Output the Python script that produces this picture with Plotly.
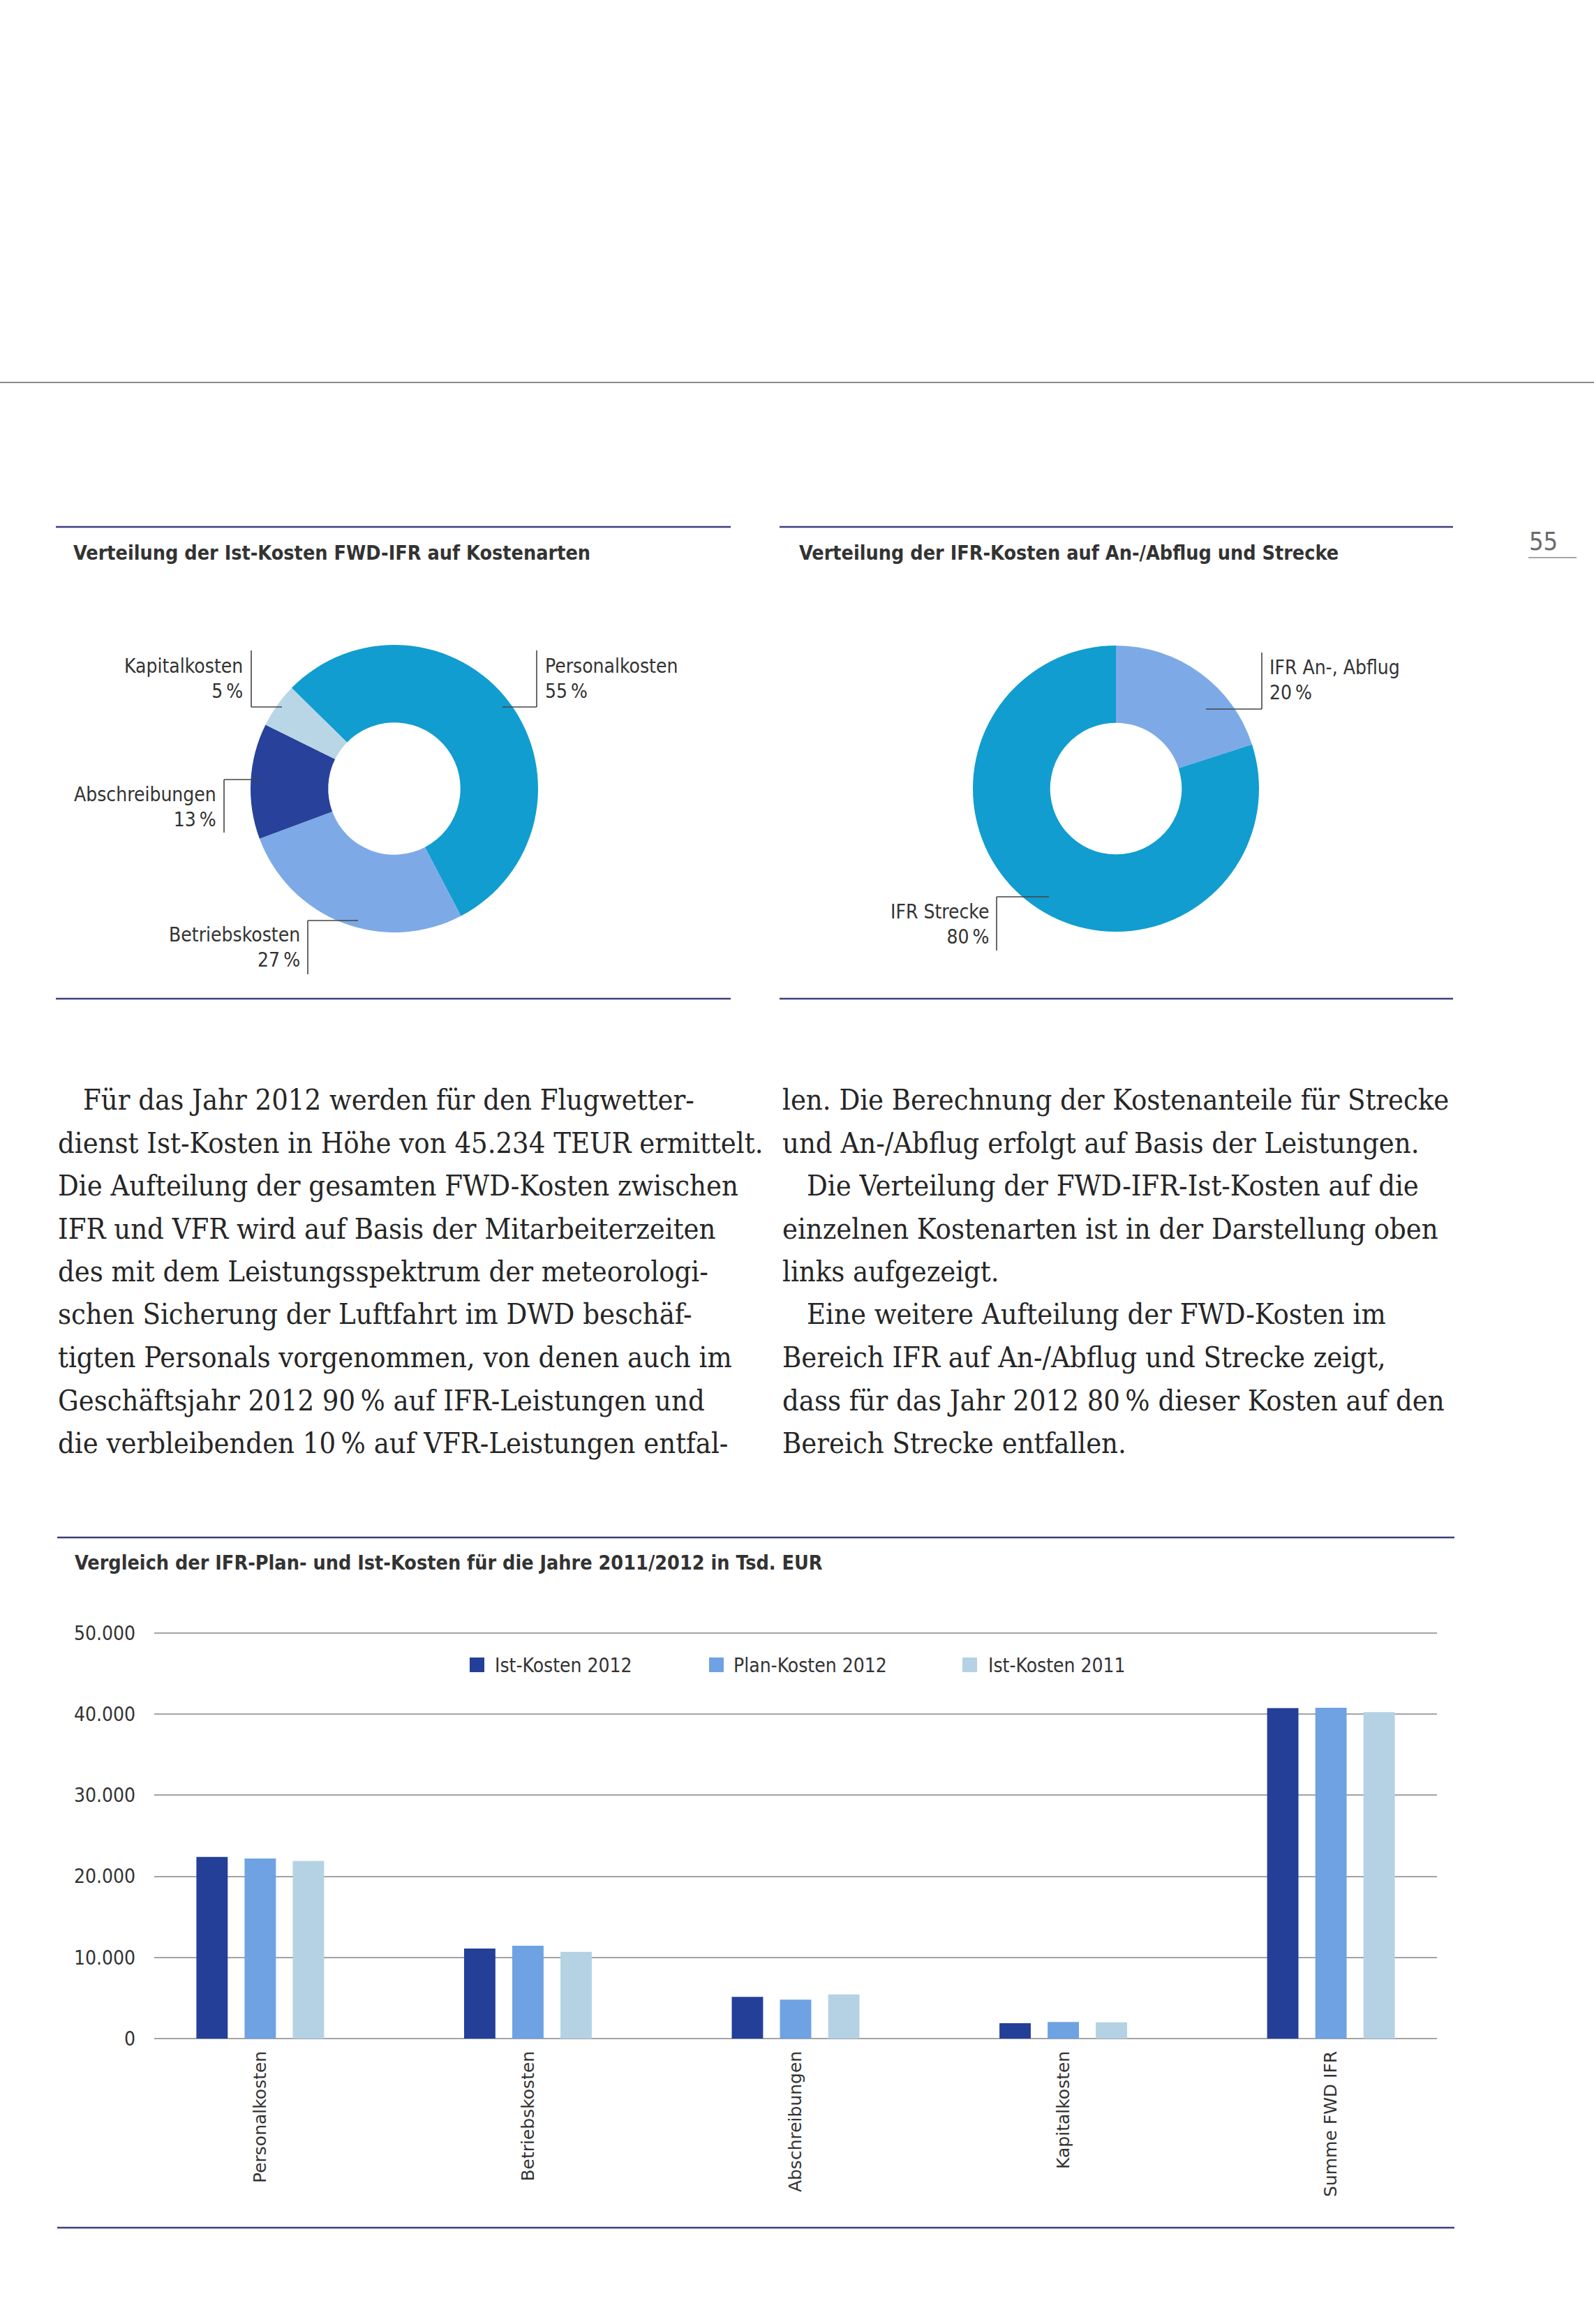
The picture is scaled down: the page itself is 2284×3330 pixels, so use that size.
import plotly.graph_objects as go

W, H = 2284, 3330

# ---------------- data ----------------
categories = ["Personalkosten", "Betriebskosten", "Abschreibungen", "Kapitalkosten", "Summe FWD IFR"]
ist_2012 = [22400, 11100, 5150, 1900, 40750]
plan_2012 = [22200, 11450, 4800, 2050, 40800]
ist_2011 = [21900, 10700, 5450, 2000, 40250]
series_names = ["Ist-Kosten 2012", "Plan-Kosten 2012", "Ist-Kosten 2011"]
y_ticks = [0, 10000, 20000, 30000, 40000, 50000]
y_tick_labels = ["0", "10.000", "20.000", "30.000", "40.000", "50.000"]

kosten_labels = ["Personalkosten", "Betriebskosten", "Abschreibungen", "Kapitalkosten"]
kosten_shares = [55, 27, 13, 5]
ifr_labels = ["IFR An-, Abflug", "IFR Strecke"]
ifr_shares = [20, 80]

titles = [
    "Verteilung der Ist-Kosten FWD-IFR auf Kostenarten",
    "Verteilung der IFR-Kosten auf An-/Abflug und Strecke",
    "Vergleich der IFR-Plan- und Ist-Kosten für die Jahre 2011/2012 in Tsd. EUR",
]

text_left = [
    "Für das Jahr 2012 werden für den Flugwetter-",
    "dienst Ist-Kosten in Höhe von 45.234 TEUR ermittelt.",
    "Die Aufteilung der gesamten FWD-Kosten zwischen",
    "IFR und VFR wird auf Basis der Mitarbeiterzeiten",
    "des mit dem Leistungsspektrum der meteorologi-",
    "schen Sicherung der Luftfahrt im DWD beschäf-",
    "tigten Personals vorgenommen, von denen auch im",
    "Geschäftsjahr 2012 90\u2009% auf IFR-Leistungen und",
    "die verbleibenden 10\u2009% auf VFR-Leistungen entfal-",
]
text_right = [
    "len. Die Berechnung der Kostenanteile für Strecke",
    "und An-/Abflug erfolgt auf Basis der Leistungen.",
    "Die Verteilung der FWD-IFR-Ist-Kosten auf die",
    "einzelnen Kostenarten ist in der Darstellung oben",
    "links aufgezeigt.",
    "Eine weitere Aufteilung der FWD-Kosten im",
    "Bereich IFR auf An-/Abflug und Strecke zeigt,",
    "dass für das Jahr 2012 80\u2009% dieser Kosten auf den",
    "Bereich Strecke entfallen.",
]
indent_left = [True, False, False, False, False, False, False, False, False]
indent_right = [False, False, True, False, False, True, False, False, False]

page_number = "55"

# ---------------- styles ----------------
bar_colors = ["#243f98", "#6ea2e2", "#b4d2e3"]
pie1_colors = ["#119dcf", "#7daae6", "#28419a", "#b9d6e6"]
pie2_colors = ["#7daae6", "#119dcf"]
SANS_C = "DejaVu Sans Condensed, DejaVu Sans, sans-serif"
SANS = "DejaVu Sans, sans-serif"
SERIF = "DejaVu Serif Condensed, DejaVu Serif, serif"
TXT = "#333333"
RULE = "#3d3f7d"


def px(x):
    return x / W


def py(y):
    return 1 - y / H


fig = go.Figure()

# ---------------- pies ----------------
c1x, c1y, r1 = 565, 1130, 206
c2x, c2y, r2 = 1599, 1130, 205
fig.add_trace(go.Pie(
    labels=kosten_labels, values=kosten_shares, sort=False, direction="clockwise",
    rotation=-45.6, hole=0.46, textinfo="none", hoverinfo="skip", showlegend=False,
    marker=dict(colors=pie1_colors, line=dict(width=0)),
    domain=dict(x=[px(c1x - r1), px(c1x + r1)], y=[py(c1y + r1), py(c1y - r1)]),
))
fig.add_trace(go.Pie(
    labels=ifr_labels, values=ifr_shares, sort=False, direction="clockwise",
    rotation=0, hole=0.46, textinfo="none", hoverinfo="skip", showlegend=False,
    marker=dict(colors=pie2_colors, line=dict(width=0)),
    domain=dict(x=[px(c2x - r2), px(c2x + r2)], y=[py(c2y + r2), py(c2y - r2)]),
))

# ---------------- bars ----------------
for vals, name, col in zip([ist_2012, plan_2012, ist_2011], series_names, bar_colors):
    fig.add_trace(go.Bar(x=categories, y=vals, name=name, marker=dict(color=col, line=dict(width=0)),
                         showlegend=False, hoverinfo="skip"))

k = 581 / 50000.0
y_lo, y_hi = -500, 50500
dom_lo = py(2921 - (y_lo) * k)
dom_hi = py(2921 - (y_hi) * k)

fig.update_layout(
    width=W, height=H, autosize=False,
    margin=dict(l=0, r=0, t=0, b=0, pad=0, autoexpand=False),
    paper_bgcolor="white", plot_bgcolor="white",
    barmode="group", bargap=0.46, bargroupgap=0.35,
    xaxis=dict(domain=[px(221), px(2059)], range=[-0.396, 4.396], type="category",
               showgrid=False, zeroline=False, showline=False, ticks="", automargin=False,
               tickangle=-90, tickfont=dict(family=SANS, size=25, color=TXT),
               ticklabelstandoff=6, fixedrange=True),
    yaxis=dict(domain=[dom_lo, dom_hi], range=[y_lo, y_hi],
               tickvals=y_ticks, ticktext=y_tick_labels, automargin=False,
               showgrid=True, gridcolor="#a3a3a3", gridwidth=2, zeroline=False, showline=False,
               ticks="", tickfont=dict(family=SANS_C, size=28, color=TXT),
               ticklabelstandoff=26, fixedrange=True),
    showlegend=False,
)

shapes = []
annotations = []


def hline(x0, x1, y, color, width):
    shapes.append(dict(type="line", xref="paper", yref="paper", x0=px(x0), x1=px(x1),
                       y0=py(y), y1=py(y), line=dict(color=color, width=width)))


def vline(x, y0, y1, color, width):
    shapes.append(dict(type="line", xref="paper", yref="paper", x0=px(x), x1=px(x),
                       y0=py(y0), y1=py(y1), line=dict(color=color, width=width)))


def text(x, y, s, size, family, color=TXT, xanchor="left", align="left"):
    annotations.append(dict(xref="paper", yref="paper", x=px(x), y=py(y), text=s,
                            showarrow=False, xanchor=xanchor, yanchor="middle", align=align,
                            font=dict(family=family, size=size, color=color)))


# page rules
hline(0, 2284, 548, "#8a8a8a", 2)
hline(80, 1047, 755, RULE, 2.5)
hline(80, 1047, 1431, RULE, 2.5)
hline(1117, 2082, 755, RULE, 2.5)
hline(1117, 2082, 1431, RULE, 2.5)
hline(82, 2084, 2203, RULE, 2.5)
hline(82, 2084, 3192, RULE, 2.5)
hline(2190, 2259, 799, "#8a8a8a", 1.5)

# page number
text(2189, 775, page_number, 36, SANS_C, color="#6a6a6a")

# titles
text(103, 793, "<b>%s</b>" % titles[0], 28.5, SANS_C)
text(1143, 793, "<b>%s</b>" % titles[1], 28.5, SANS_C)
text(105, 2239, "<b>%s</b>" % titles[2], 28.5, SANS_C)

# pie labels: (x, y, anchor) and leader lines (vertical x, y0, y1, horizontal y, x0, x1)
pie1_label_pos = [(779, 972, "left"), (432, 1357, "right"), (312, 1156, "right"), (350, 972, "right")]
pie1_leaders = [(769, 932, 1013, 1013, 720, 769), (441, 1319, 1396, 1319, 441, 513),
                (321, 1117, 1193, 1117, 321, 372), (360, 932, 1013, 1013, 360, 404)]
pie2_label_pos = [(1817, 974, "left"), (1419, 1324, "right")]
pie2_leaders = [(1808, 935, 1016, 1016, 1728, 1808), (1428, 1285, 1362, 1285, 1428, 1503)]

for labs, vals, poss, leads in [(kosten_labels, kosten_shares, pie1_label_pos, pie1_leaders),
                                (ifr_labels, ifr_shares, pie2_label_pos, pie2_leaders)]:
    for lab, v, (x, y, anc), (vx, vy0, vy1, hy, hx0, hx1) in zip(labs, vals, poss, leads):
        text(x, y, "%s<br>%d\u2009%%" % (lab, v), 28, SANS_C, xanchor=anc, align=anc)
        vline(vx, vy0, vy1, "#444444", 1.6)
        hline(hx0, hx1, hy, "#444444", 1.6)

# body text
y0_text, dy_text = 1576, 61.5
for i, (line, ind) in enumerate(zip(text_left, indent_left)):
    text(117 if ind else 81, y0_text + i * dy_text, line, 41.3, SERIF, color="#262626")
for i, (line, ind) in enumerate(zip(text_right, indent_right)):
    text(1154 if ind else 1119, y0_text + i * dy_text, line, 41.3, SERIF, color="#262626")

# manual legend
leg_sq_x = [673, 1016, 1379]
leg_tx_x = [707, 1049, 1414]
for name, col, sx, tx in zip(series_names, bar_colors, leg_sq_x, leg_tx_x):
    shapes.append(dict(type="rect", xref="paper", yref="paper", x0=px(sx), x1=px(sx + 21),
                       y0=py(2396), y1=py(2375), line=dict(width=0), fillcolor=col))
    text(tx, 2386, name, 28, SANS_C)

fig.update_layout(shapes=shapes, annotations=annotations)

fig.write_html("out.html", config={"displayModeBar": False, "staticPlot": True},
               post_script="document.body.style.margin='0';document.documentElement.style.overflow='hidden';")
